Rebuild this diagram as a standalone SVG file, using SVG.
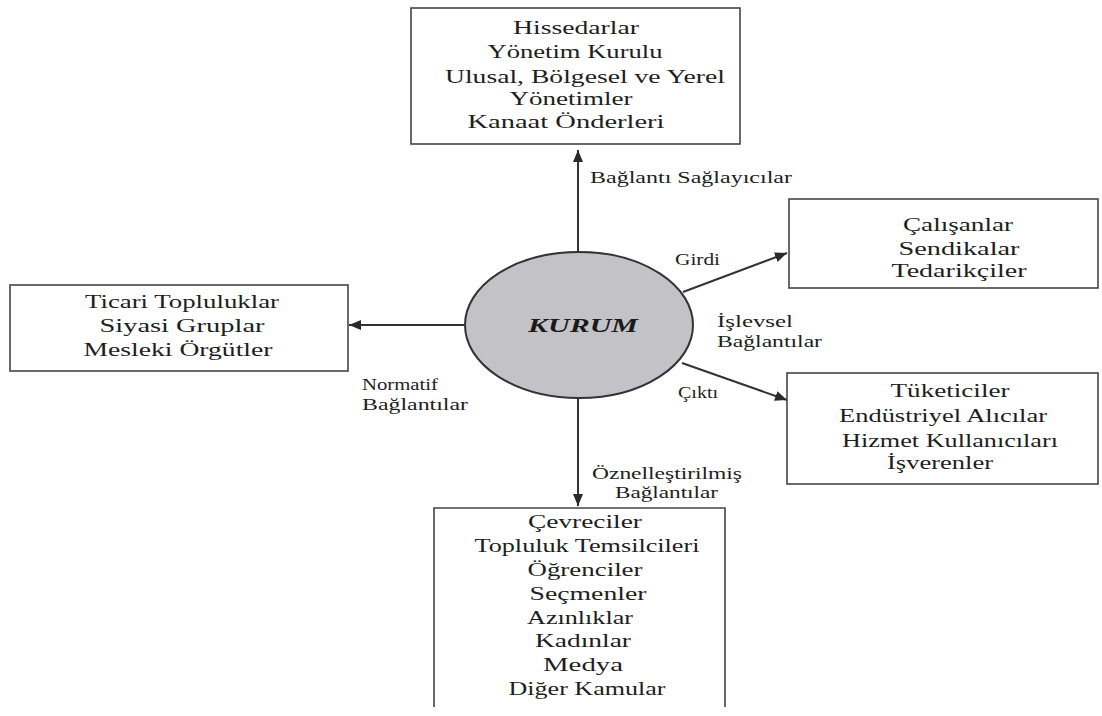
<svg xmlns="http://www.w3.org/2000/svg" width="1102" height="716" viewBox="0 0 1102 716" font-family="Liberation Serif, Tinos, Times New Roman, Noto Serif, DejaVu Serif, serif">
  <defs>
    <marker id="arrow" viewBox="0 0 12 10" refX="12" refY="5" markerWidth="12" markerHeight="10" orient="auto" markerUnits="userSpaceOnUse">
      <path d="M0,0 L12,5 L0,10 z" fill="#2a2a2a"/>
    </marker>
    <style>
      .box { fill: #ffffff; stroke: #454545; stroke-width: 1.6; }
      .t { font-size: 19px; fill: #1e1e1e; text-anchor: middle; }
      .lbl { font-size: 16px; fill: #1e1e1e; }
      .conn { stroke: #333333; stroke-width: 2; fill: none; marker-end: url(#arrow); }
      .core { fill: #c3c3c7; stroke: #333333; stroke-width: 2; }
      .core-t { font-size: 19px; font-weight: bold; font-style: italic; fill: #1a1a1a; text-anchor: middle; }
    </style>
  </defs>

  <rect width="1102" height="716" fill="#ffffff"/>

  <!-- connectors -->
  <g id="connectors">
    <path class="conn" d="M578,252 L578,150"/>
    <path class="conn" d="M683,292 L787,253"/>
    <path class="conn" d="M682,363 L787,400"/>
    <path class="conn" d="M465,325 L349,325"/>
    <path class="conn" d="M578,399 L578,506"/>
    <text class="lbl" x="590" y="183" textLength="202" lengthAdjust="spacingAndGlyphs">Bağlantı Sağlayıcılar</text>
    <text class="lbl" x="675" y="265" textLength="45" lengthAdjust="spacingAndGlyphs">Girdi</text>
    <text class="lbl" x="717" y="327" textLength="76" lengthAdjust="spacingAndGlyphs">İşlevsel</text>
    <text class="lbl" x="717" y="347" textLength="105" lengthAdjust="spacingAndGlyphs">Bağlantılar</text>
    <text class="lbl" x="678" y="398" textLength="40" lengthAdjust="spacingAndGlyphs">Çıktı</text>
    <text class="lbl" x="362" y="390" textLength="76" lengthAdjust="spacingAndGlyphs">Normatif</text>
    <text class="lbl" x="362" y="410" textLength="106" lengthAdjust="spacingAndGlyphs">Bağlantılar</text>
    <text class="lbl" x="592" y="479" textLength="150" lengthAdjust="spacingAndGlyphs">Öznelleştirilmiş</text>
    <text class="lbl" x="615" y="498" textLength="103" lengthAdjust="spacingAndGlyphs">Bağlantılar</text>
  </g>

  <!-- central organisation -->
  <g id="kurum">
    <ellipse class="core" cx="579" cy="325" rx="114" ry="73"/>
    <text class="core-t" x="583" y="332" textLength="110" lengthAdjust="spacingAndGlyphs">KURUM</text>
  </g>

  <!-- top: linkage providers -->
  <g id="node-top">
    <rect class="box" x="411" y="8" width="329" height="136"/>
    <text class="t" x="576" y="34" textLength="126" lengthAdjust="spacingAndGlyphs">Hissedarlar</text>
    <text class="t" x="575" y="58" textLength="175" lengthAdjust="spacingAndGlyphs">Yönetim Kurulu</text>
    <text class="t" x="585" y="83" textLength="280" lengthAdjust="spacingAndGlyphs">Ulusal, Bölgesel ve Yerel</text>
    <text class="t" x="571" y="105" textLength="123" lengthAdjust="spacingAndGlyphs">Yönetimler</text>
    <text class="t" x="566" y="128" textLength="197" lengthAdjust="spacingAndGlyphs">Kanaat Önderleri</text>
  </g>

  <!-- right: inputs -->
  <g id="node-input">
    <rect class="box" x="789" y="199" width="309" height="89"/>
    <text class="t" x="958" y="231" textLength="110" lengthAdjust="spacingAndGlyphs">Çalışanlar</text>
    <text class="t" x="959" y="255" textLength="121" lengthAdjust="spacingAndGlyphs">Sendikalar</text>
    <text class="t" x="959" y="277" textLength="135" lengthAdjust="spacingAndGlyphs">Tedarikçiler</text>
  </g>

  <!-- right: outputs -->
  <g id="node-output">
    <rect class="box" x="787" y="373" width="311" height="111"/>
    <text class="t" x="950" y="397" textLength="119" lengthAdjust="spacingAndGlyphs">Tüketiciler</text>
    <text class="t" x="943" y="422" textLength="208" lengthAdjust="spacingAndGlyphs">Endüstriyel Alıcılar</text>
    <text class="t" x="950" y="447" textLength="216" lengthAdjust="spacingAndGlyphs">Hizmet Kullanıcıları</text>
    <text class="t" x="940" y="469" textLength="106" lengthAdjust="spacingAndGlyphs">İşverenler</text>
  </g>

  <!-- left: normative linkages -->
  <g id="node-normative">
    <rect class="box" x="10" y="285" width="338" height="86"/>
    <text class="t" x="182" y="308" textLength="194" lengthAdjust="spacingAndGlyphs">Ticari Topluluklar</text>
    <text class="t" x="182" y="332" textLength="165" lengthAdjust="spacingAndGlyphs">Siyasi Gruplar</text>
    <text class="t" x="178" y="356" textLength="189" lengthAdjust="spacingAndGlyphs">Mesleki Örgütler</text>
  </g>

  <!-- bottom: diffused linkages -->
  <g id="node-diffused">
    <path class="box" d="M434,707 L434,508 L725,508 L725,707"/>
    <text class="t" x="585" y="528" textLength="114" lengthAdjust="spacingAndGlyphs">Çevreciler</text>
    <text class="t" x="587" y="552" textLength="225" lengthAdjust="spacingAndGlyphs">Topluluk Temsilcileri</text>
    <text class="t" x="585" y="576" textLength="115" lengthAdjust="spacingAndGlyphs">Öğrenciler</text>
    <text class="t" x="588" y="600" textLength="117" lengthAdjust="spacingAndGlyphs">Seçmenler</text>
    <text class="t" x="580" y="624" textLength="106" lengthAdjust="spacingAndGlyphs">Azınlıklar</text>
    <text class="t" x="583" y="647" textLength="96" lengthAdjust="spacingAndGlyphs">Kadınlar</text>
    <text class="t" x="583" y="671" textLength="80" lengthAdjust="spacingAndGlyphs">Medya</text>
    <text class="t" x="587" y="695" textLength="157" lengthAdjust="spacingAndGlyphs">Diğer Kamular</text>
  </g>
</svg>
